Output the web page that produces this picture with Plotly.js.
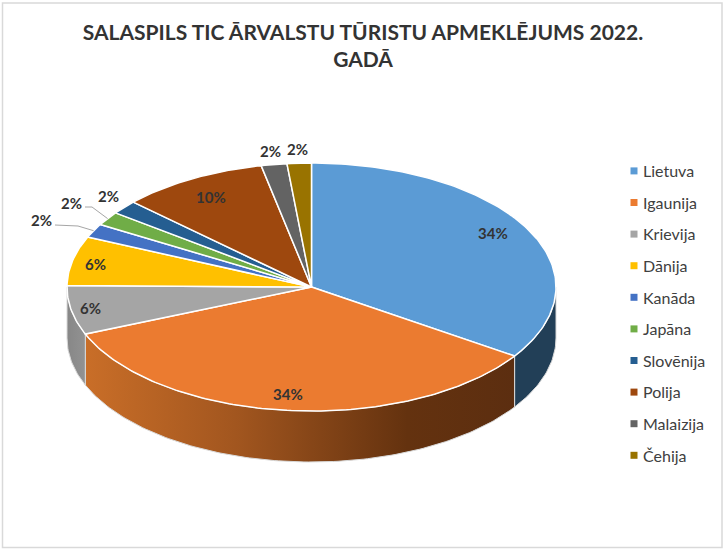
<!DOCTYPE html>
<html>
<head>
<meta charset="utf-8">
<script src="https://cdn.plot.ly/plotly-3.0.1.min.js"></script>
<style>html,body{margin:0;padding:0;background:#fff}</style>
</head>
<body>
<div id="chart" style="width:725px;height:551px"></div>
<script>
// Data
const categories = ['Lietuva','Igaunija','Krievija','Dānija','Kanāda','Japāna','Slovēnija','Polija','Malaizija','Čehija'];
const values = [34.4,34.4,6.4,6.4,1.8,1.8,1.8,9.7,1.7,1.6];
const colors = ['#5b9bd5','#eb7b30','#a5a5a5','#ffc000','#4472c4','#70ad47','#255e91','#9e480e','#636363','#997300'];
const chartTitle = 'SALASPILS TIC ĀRVALSTU TŪRISTU APMEKLĒJUMS 2022.<br>GADĀ';

// Layout of the drawing (pixel-scaled axes)
const W = 725, H = 551;
const cx = 311.5, cy = 287, rx = 244.5, ry = 124, depth = 51;
const labelPos = [[493,233],[288,394],[90,308],[95,264],[41,220],[71,203],[108,196],[211,197],[270,151],[297,149]];
const wallFill = {
  0: {colorscale:[[0,'#223f57'],[1,'#223f57']]},
  1: {colorscale:[[0,'#c96e28'],[0.35,'#a2561f'],[0.75,'#64320f'],[1,'#5c2e10']]},
  2: {colorscale:[[0,'#878787'],[1,'#929292']]}
};
const font = 'Lato, "Open Sans", sans-serif';
const textColor = '#333333';

const total = values.reduce((a,b)=>a+b,0);
const rad = d => d*Math.PI/180;
const px = a => cx + rx*Math.sin(rad(a));
const py = a => cy - ry*Math.cos(rad(a));
const arc = (a0,a1) => {
  const n = Math.max(2, Math.ceil(Math.abs(a1-a0)));
  const out = [];
  for (let i=0;i<=n;i++) out.push(a0+(a1-a0)*i/n);
  return out;
};

let bounds = [0];
values.forEach(v => bounds.push(bounds[bounds.length-1] + v/total*360));

const traces = [];
// side walls: the visible front half of the cylinder
values.forEach((v,i) => {
  const a0 = Math.max(bounds[i],90), a1 = Math.min(bounds[i+1],270);
  if (a1 <= a0) return;
  const top = arc(a0,a1), bot = top.slice().reverse();
  const xs = top.map(px).concat(bot.map(px), [px(a0)]);
  const ys = top.map(py).concat(bot.map(a=>py(a)+depth), [py(a0)]);
  const xMin = Math.min(...xs), xMax = Math.max(...xs);
  traces.push({
    x: xs, y: ys, type:'scatter', mode:'lines', fill:'toself',
    fillgradient: Object.assign({type:'horizontal', start:xMin, stop:xMax}, wallFill[i]),
    line:{color:'#d9d9d9', width:1}, hoverinfo:'skip', showlegend:false
  });
});
// top faces
values.forEach((v,i) => {
  const top = arc(bounds[i],bounds[i+1]);
  traces.push({
    x: [cx].concat(top.map(px),[cx]), y: [cy].concat(top.map(py),[cy]),
    type:'scatter', mode:'lines', fill:'toself', fillcolor:colors[i],
    line:{color:'#ffffff', width:1.5}, name:categories[i], legendgroup:categories[i],
    hoverinfo:'name', showlegend:false
  });
});
// legend entries
categories.forEach((c,i) => {
  traces.push({
    x:[null], y:[null], type:'scatter', mode:'markers', name:c, legendgroup:c,
    marker:{symbol:'square', size:7, color:colors[i]}, showlegend:true, hoverinfo:'skip'
  });
});

const annotations = values.map((v,i) => ({
  x: labelPos[i][0], y: labelPos[i][1], xref:'x', yref:'y', showarrow:false,
  text: Math.round(v/total*100) + '%',
  font:{family:font, size:15, color:textColor, weight:700}
}));

const mid = i => (bounds[i]+bounds[i+1])/2;
const shapes = [
  {type:'rect', xref:'x', yref:'y', x0:2.5, x1:722, y0:3, y1:547.5, line:{color:'#d9d9d9', width:1.5}, layer:'below'},
  {type:'path', xref:'x', yref:'y', layer:'above', line:{color:'#a6a6a6', width:1},
    path:`M55 225 L78 226 L${px(mid(4)).toFixed(1)} ${py(mid(4)).toFixed(1)}`},
  {type:'path', xref:'x', yref:'y', layer:'above', line:{color:'#a6a6a6', width:1},
    path:`M85 207 L92 207 L${px(mid(5)).toFixed(1)} ${py(mid(5)).toFixed(1)}`}
];

const hiddenAxis = {visible:false, fixedrange:true, showgrid:false, zeroline:false};
Plotly.newPlot('chart', traces, {
  width:W, height:H,
  margin:{l:0,r:0,t:0,b:0},
  paper_bgcolor:'#ffffff', plot_bgcolor:'#ffffff',
  title:{text:chartTitle, x:363/W, xanchor:'center', y:1-39.5/H, yanchor:'top', yref:'container',
         font:{family:font, size:21, color:textColor, weight:700}},
  xaxis:Object.assign({range:[0,W]},hiddenAxis),
  yaxis:Object.assign({range:[H,0]},hiddenAxis),
  annotations, shapes,
  legend:{x:603/W, y:1-154/H, xanchor:'left', yanchor:'top', bgcolor:'rgba(0,0,0,0)',
          font:{family:font, size:16, color:'#404040'}, tracegroupgap:7.8, itemwidth:30,
          itemclick:false, itemdoubleclick:false},
  showlegend:true
}, {displayModeBar:false, staticPlot:false}).then(() => {
  // move the legend swatches next to their labels
  document.querySelectorAll('#chart .legendpoints path').forEach(p => {
    p.setAttribute('transform','translate(31,0)');
  });
});
</script>
</body>
</html>
